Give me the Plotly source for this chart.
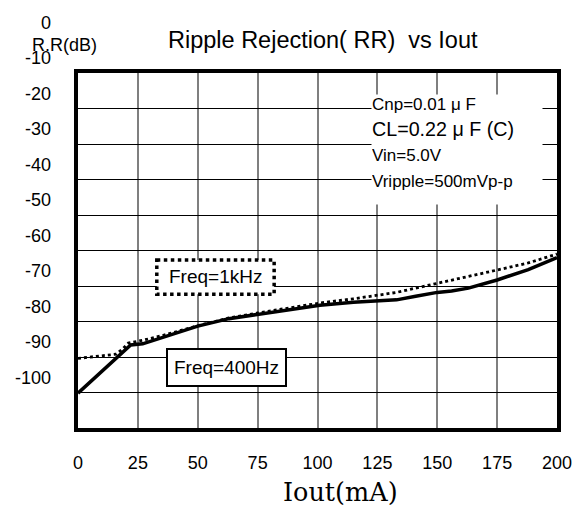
import plotly.graph_objects as go

# ---- data ----
iout_400 = [0, 5, 10, 15, 20, 22, 27, 35, 50, 63, 75, 90, 101, 115, 125, 133, 141, 150, 156, 163, 175, 188, 200]
rr_400 = [-105.2, -102.1, -99.0, -95.9, -92.7, -91.6, -91.3, -89.6, -86.3, -84.2, -83.0, -81.5, -80.4,
          -79.6, -79.2, -78.9, -77.9, -76.8, -76.4, -75.6, -73.3, -70.4, -67.0]
iout_1k = [0, 5, 10, 16, 19, 21, 27, 35, 50, 63, 75, 90, 101, 115, 126, 133, 141, 150, 163, 175, 188, 200]
rr_1k = [-95.4, -95.0, -94.7, -94.2, -92.5, -91.1, -90.3, -89.0, -86.2, -84.0, -82.6, -81.0, -79.8,
         -78.6, -77.5, -76.8, -75.6, -74.3, -72.3, -70.5, -68.5, -66.0]

x_ticks = [0, 25, 50, 75, 100, 125, 150, 175, 200]
x_tick_text = ["0", "25", "50", "75", "100", "125", "150", "175", "200"]
y_ticks = [0, -10, -20, -30, -40, -50, -60, -70, -80, -90, -100]
y_tick_text = ["0", "-10", "-20", "-30", "-40", "-50", "-60", "-70", "-80", "-90", "-100"]

title_text = "Ripple Rejection( RR)\u00a0\u00a0vs Iout"
y_title = "R.R(dB)"
x_title = "Iout(mA)"
cond_lines = ["Cnp=0.01 \u03bc F", "CL=0.22 \u03bc F (C)", "Vin=5.0V", "Vripple=500mVp-p"]
label_1k = "Freq=1kHz"
label_400 = "Freq=400Hz"

FONT = "Liberation Sans, Arial, sans-serif"

fig = go.Figure()
fig.add_trace(go.Scatter(x=iout_1k, y=rr_1k, mode="lines",
                         line=dict(color="black", width=2.8, dash="dot"),
                         showlegend=False, hoverinfo="skip"))
fig.add_trace(go.Scatter(x=iout_400, y=rr_400, mode="lines",
                         line=dict(color="black", width=3.5),
                         showlegend=False, hoverinfo="skip"))
# helper subplot that carries the (offset) y tick labels
fig.add_trace(go.Scatter(x=[None], y=[None], xaxis="x2", yaxis="y2",
                         showlegend=False, hoverinfo="skip"))

cond_text = (f"<span style='font-size:17px'>{cond_lines[0]}</span><br>"
             f"{cond_lines[1]}<br>"
             f"<span style='font-size:17px'>{cond_lines[2]}</span><br>"
             f"<span style='font-size:17px'>{cond_lines[3]}</span>")

fig.update_layout(
    width=584, height=508,
    margin=dict(l=78, r=20, t=14, b=80),
    paper_bgcolor="white",
    plot_bgcolor="rgba(0,0,0,0)",
    font=dict(family=FONT, color="black", size=18),
    title=dict(text=title_text, x=0.511, xanchor="center", y=0.921, yanchor="middle",
               xref="paper", yref="container", font=dict(size=23.5, family=FONT)),
    xaxis=dict(domain=[0, 1], anchor="y", range=[0, 200], tickvals=x_ticks, ticktext=x_tick_text,
               showgrid=True, gridcolor="#7f7f7f", gridwidth=1.6, zeroline=False,
               showline=True, linecolor="black", linewidth=4, mirror=True,
               ticks="", tickfont=dict(size=18), ticklabelstandoff=15),
    yaxis=dict(domain=[0, 355 / 414], anchor="x", range=[-115, -15], tick0=-15, dtick=10,
               showticklabels=False, showgrid=True, gridcolor="black", gridwidth=1,
               zeroline=False, showline=True, linecolor="black", linewidth=4, mirror=True, ticks=""),
    xaxis2=dict(domain=[0, 1], anchor="y2", range=[0, 200], visible=False),
    yaxis2=dict(domain=[0, 1], anchor="x2", range=[-114.3, 2.32], tickvals=y_ticks, ticktext=y_tick_text,
                showgrid=False, zeroline=False, showline=False, ticks="",
                tickfont=dict(size=18), ticklabelstandoff=26),
    shapes=[dict(type="rect", xref="x", yref="y", x0=32.9, x1=81.9, y0=-67.7, y1=-77.3,
                 line=dict(color="black", width=3.5, dash="dot"), fillcolor="white", layer="above")],
    annotations=[
        dict(text=cond_text, xref="x", yref="y", x=122.2, y=-20.9, xanchor="left", yanchor="top",
             showarrow=False, align="left", valign="top", width=170, height=109, bgcolor="white",
             borderpad=0, font=dict(size=19.7, family=FONT)),
        dict(text=label_1k, xref="x", yref="y", x=57.4, y=-72.4, showarrow=False,
             font=dict(size=19, family=FONT)),
        dict(text=label_400, xref="x", yref="y", x=61.9, y=-98.0, showarrow=False,
             bgcolor="white", bordercolor="black", borderwidth=2, borderpad=1,
             width=115, height=33, font=dict(size=19, family=FONT)),
        dict(text=y_title, xref="paper", yref="paper", x=-0.0288, y=0.925, showarrow=False,
             xanchor="center", yanchor="middle", font=dict(size=18, family=FONT)),
        dict(text=x_title, xref="paper", yref="paper", x=0.547, y=-0.1546, showarrow=False,
             xanchor="center", yanchor="middle", font=dict(size=25.5, family="DejaVu Serif, serif")),
    ],
)

fig.write_html("out.html", config={"displayModeBar": False},
               post_script="document.body.style.margin='0px';")
